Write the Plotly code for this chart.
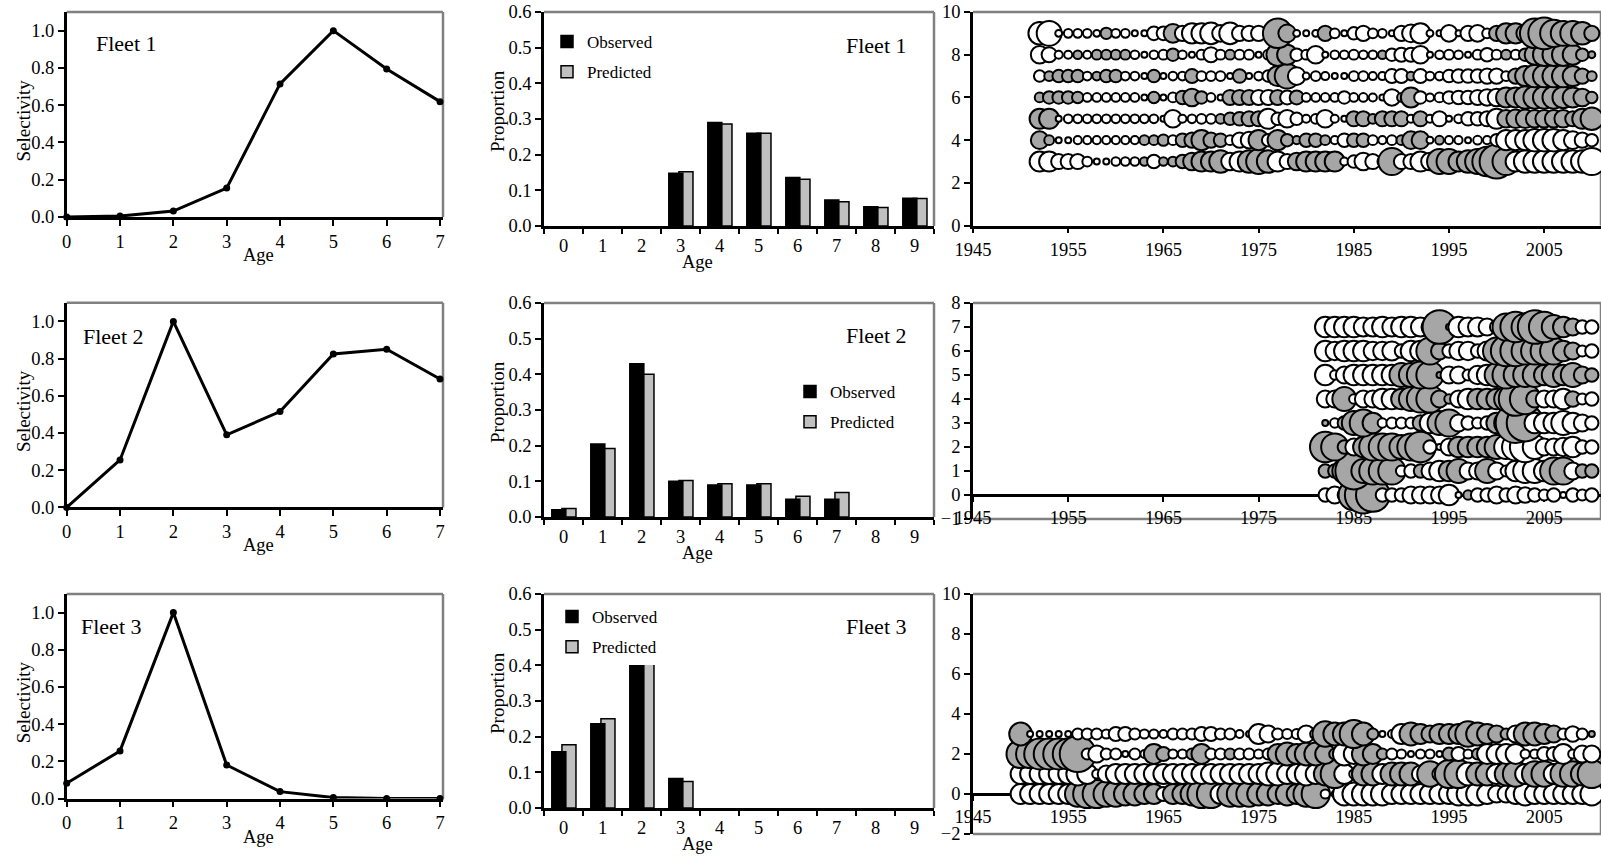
import plotly.graph_objects as go

W, H = 1601, 856
FONT = "Liberation Serif, Times New Roman, serif"
GRAY_BORDER = "#808080"

# ---------------- Selectivity by age ----------------
sel_ages = [0, 1, 2, 3, 4, 5, 6, 7]
sel_fleet1 = [0.0, 0.005, 0.032, 0.155, 0.714, 1.0, 0.794, 0.619]
sel_fleet2 = [0.0, 0.255, 1.0, 0.39, 0.515, 0.825, 0.85, 0.69]
sel_fleet3 = [0.082, 0.256, 1.0, 0.18, 0.037, 0.005, 0.0, 0.0]

# ---------------- Age composition (observed / predicted) ----------------
comp_ages = ["0", "1", "2", "3", "4", "5", "6", "7", "8", "9"]
obs_fleet1 = [0, 0, 0, 0.148, 0.29, 0.26, 0.136, 0.073, 0.054, 0.078]
pred_fleet1 = [0, 0, 0, 0.152, 0.286, 0.26, 0.131, 0.068, 0.052, 0.077]
obs_fleet2 = [0.02, 0.205, 0.43, 0.10, 0.09, 0.09, 0.05, 0.05, 0, 0]
pred_fleet2 = [0.024, 0.192, 0.40, 0.102, 0.093, 0.093, 0.058, 0.069, 0, 0]
obs_fleet3 = [0.158, 0.236, 0.50, 0.083, 0, 0, 0, 0, 0, 0]
pred_fleet3 = [0.177, 0.25, 0.49, 0.074, 0, 0, 0, 0, 0, 0]

# ---------------- Residual bubbles (grey = positive, white = negative) ----------------
f1_years = list(range(1952, 2011))
f1_age3 = [-3.5, -3.5, -2.5, -2.5, -2.5, -1.5, -0.5, -0.5, -1.3, -1.3, -1.3, 1.3, -2.2, 1.3, 1.5, 2.2, 3, 3.5, 3.5, 4,
           -3, -3.5, 4, 4.5, 4, -3.5, -2.5,
           3, 3.5, 3.5, 3.5, 3.5, -1.2, -2, -3, -2.5, -1.5, 5, -2.5, -2.5, -3.5, -3, 4.5, 4.5, 3.5, 4, 4.5, 5.5, 6.5,
           5, -3.5, -4, -4, -4, -4, -4, -4, -4, -5]
f1_age4 = [3, 1.5, -0.5, -0.6, -1.2, -1.2, -1.2, -1.2, -1.2, -1.2, -1.2, 1.5, 1.5, 1.8, -1.5, 2.2, 2.5, 3.5, 2.5, 2.2,
           -1.5, -2.5, -2.8, 3.5, -2, 3.5, 2,
           1.2, 2.2, 2.2, 1.5, -1.2, -2.2, 2.2, 2.2, -1.5, -1.2, -1.5, 1.5, 3, 3, -1, 1.3, -1.2, -1.2, -0.6, -1.3,
           -1.2, -2, -3.5, -3.5, -3.5, -4, -4, -4, -3.5, -3, -2.5, -2]
f1_age5 = [3.5, 3.5, -0.5, -1.3, -1.3, -1.3, -1.3, -1.3, -1.3, -1.3, -1.3, -1.3, -1.3, -0.6, -3, -1.2, -1.3, -1.5,
           -1.5, 1.5, 2, 2.2, 2.5, 2.5, -3.5, -2, -3,
           -2, -1.2, -1.5, -3, -1.2, -0.6, 2.5, 2.5, 1.5, 2.5, 2.5, 2.5, -1.2, 2.5, -1.2, -2.5, -0.6, -1.3, -2.2,
           -2.2, -2.5, -3.5, 3, 3.2, 3.2, 3, 3, 3, 3, 2.5, 3.5, 4]
f1_age6 = [1.5, 2, 2, 2, 1.8, -1.3, -1.3, -1.3, -1.3, -1.3, -1.3, -0.5, 1.8, -0.5, -1.5, 2.2, 3, 2, -1.3, -0.6,
           2.5, 2.5, 2.5, -2.5, -2.5, 2.5, -2.3,
           2.3, -1.3, -1.3, -1.3, -1.3, -2, -1.3, -1.3, -1.2, -0.8, -2.8, 1.3, 3.5, -2, -1.2, -1.5, -2, -2.2, -2.2,
           -2.5, -2.8, -3, 3.5, 3.5, 4, 4, 4, 4, 3.8, 3.5, 3, 1.8]
f1_age7 = [-1.8, 1.5, 2, 2, 2, -1.3, 1.3, 2, 2, -1.3, -1.3, -0.5, 2, -0.5, -1.3, -1.3, 2.3, -1.5, -1.5, -1.5,
           -0.6, 2.2, -0.6, -1.3, -1.8, 3.5, 4.5,
           -3, -1, -1.5, -1.2, -0.5, -0.5, -1.5, -1.5, -1.2, -1.2, -2.3, -2.3, 1.3, -2.3, -1.3, -1.3, -2, -2.2, -2.2,
           -2.2, -2.5, -2.5, -1.5, 2.5, 3.5, 4, 4, 4, 4, 3.5, 2.5, 1.5]
f1_age8 = [-3, -2.5, -1.2, -1.2, 1.3, -1.2, 1.5, 1.5, 1.5, 1.5, -1.3, -0.5, -1.3, -1.5, 2, -1.3, -0.5, -1.5, -2.5,
           -1.5, 1.5, -1.5, -1.5, -0.6, -1.5, 4, 3.5,
           -2, -1.5, -3, -0.6, -1.3, -1.3, -1.5, -1.3, -1.3, 1.3, -2, -2.3, -2.3, -3, -0.6, -1.3, -1.5, -1.3, -0.6,
           -1.5, -2.2, -1.5, 1.5, -1.5, 2, 3.5, 4, 4, 4, 3.5, 2, 1]
f1_age9 = [-4, -4.5, -1, -1.3, -1.3, -1.3, -1, 1.8, -1.3, -1.3, -0.6, -0.5, -2.2, -2.2, 3.2, -2.5, -3.5, -3.5, -3.8,
           -2.8, -3.8, -2.5, -2.5, -2.5, -1.5, 5.5, 3,
           -1, -0.5, -1, 2.5, -1.5, -0.8, -2, -2.5, -1.5, -1.3, -0.8, -2.5, -3, -3.5, -1, -0.5, -2.8, -0.5, -2.5,
           -2.8, -1.5, 2.5, 3.5, 3.5, 3, 5.5, 6, 5, 4.5, 4.5, 4, 2.5]

f2_years = list(range(1982, 2011))
f2_age0 = [-1.5, -2, -1.5, 4, 5, 4.5, -1.5, -1.5, -1.5, -2, -2, -2, -2, -2.5, -0.5, 1, -1.5, -1.5, -2, -1.5, -2,
           -1.8, -1.5, -1.2, -1.5, -0.5, -1.5, -1.2, -1.5]
f2_age1 = [1.5, 1.5, 3, 5, 3, 3.5, 3.5, 3.5, -1.2, -1.5, 1.5, -2, -2.5, 2.5, 3, -2, -2, 3, -2, -1.2, -2.5, -3, -3,
           -2.5, 3.5, 3.5, -2, 1.5, 1.5]
f2_age2 = [4, 3.5, 1.5, -2, 2.5, 3.5, 3.5, 3.5, 3, 3.5, 4, -1.5, -0.5, -2, 2.5, 2.5, 2.5, 2.5, 3, -3, -3.5, -4, -3,
           -2, -2, -2.2, -2.5, -1.5, -1.5]
f2_age3 = [0.5, -1, 1.5, 3, 3.5, 2.5, -1, -1.2, -1.2, -1.2, 1.8, -2.5, 3, 3.5, -2, -1.5, -1.2, -1.5, 2.5, 3, 5.5,
           5, -2.5, -2.5, -2.5, -3, -2.5, -2, -1.5]
f2_age4 = [-2, -2, 3, -1, -2, -2, -2.5, -2.5, 2.5, 3, 3.5, 3.5, 2, 1, -2, -2.5, 2.5, 2.5, 2.5, 3, 4.5, 4, 2, -2,
           -2, -2.5, 1.8, -1.2, -1.5]
f2_age5 = [-2.5, -1, -2, -2.5, -2.5, -2.5, -2.5, -2.5, 3, 3, 3.5, 3.5, 0.5, -2, -2, -1.2, -2.2, -2.5, 3, 3.5, 3, 3,
           3, 2.5, 3, 2.5, 3, 2, 1.5]
f2_age6 = [-2.5, -2.2, -2.5, -2.5, -2.5, -2.2, -2.2, -2.3, -1.5, -2.5, -2.5, 3.5, 2, -1.5, -2.2, -2.2, -1.5, -2.3,
           3.5, 4, 4, 3.5, 3.5, 3.5, 3.5, 2.5, 2, -1.2, -1.5]
f2_age7 = [-2.5, -2.5, -2.5, -2.5, -2.3, -2.3, -2.5, -2.3, -2.5, -2.5, -2.3, -2, 4.5, 0.5, -2.5, -2.3, -2.3, -2,
           -1.5, 3.5, 4, 3.5, 4.5, 4, 3, 2.5, 2, -1.5, -1.5]

f3_years = list(range(1950, 2011))
f3_age0 = [-3, -3, -3, -3, -3, -3, 4, 4.5, 4.5, 4, 4, 3.5, 3.5, 3, 3, -2, 3, 3, 3.5, 4.5, 4.5, -3, 4, 4, 4, 3.5,
           3.5, 3,
           3.5, 3, 4, 4.5, -1.2, -0.8, -3.5, -3.5, -3.5, -3.5, -3.5, -3, -3, -3, -3, -3, -3, -3, -3.5, -3.5, -3.5,
           -3, -2.5, -2.5, -3, -3.5, -3, -3, -3, -3, -3, -3, -3.5]
f3_age1 = [-3, -3, -3, -3, -3, -3, -3.5, -3, -1.2, -2.5, -3, -3, -3, -3, -3, -3, -3, -3, -3, -3, -3, -3, -3, -3,
           -3, -3, -3.5, -3.5,
           -3, -3, -3.5, -3, 3.5, 4.5, -3, -1.2, 3.5, 3.5, -3, 3.5, 3.5, 3.5, -2.5, 4, -2, 4.5, 4.5, -3.5, 3.5, 3.5,
           -3, 3.5, 4, -3, 4, 4, -3, 4, 4, 3.5, 4.5]
f3_age2 = [4.5, 4.5, 5, 5, 5, 5, 6, -1.5, -2.5, -1.5, -1.5, -0.5, -1.5, -1, 3, 2, -1.2, -1.2, 1.5, 3, -1.5, -1.5,
           1.5, -1.5, -1.5, -1.2, -1.5, 3,
           3.5, 3, 3.5, 3.5, 3, 1.5, -3.5, -3, 3.5, 3, 1.5, -1.5, -1.2, -0.5, -1.2, -1.2, -0.5, 1.8, -2, -1.2, 1.5,
           -3, -3, -3, -3, -1.2, -1.2, -2, -2, -3, -1.2, -2.5, -2.5]
f3_age3 = [3.5, -0.5, -0.5, -0.5, -0.5, -0.6, -1.5, -1.5, -1.5, -1.2, -2, -2, -1.5, -1.2, -1.2, -1, -1.5, -1.5, -1.5,
           -2, -2, -1.5, -1.5, -1, -0.6, -3, -2.5, -1.5,
           -1.3, -1.3, -2.5, -1.5, 4, 3.5, 3.5, 4.5, 3.5, 1.5, -0.5, -1, -3, 3.5, 3, 2.5, 3, 3, 3, 4, 3.5, 3, 2.5,
           1.5, -2.5, 3.5, 3.5, 3, 2.5, -1.5, -2.2, -1.5, 0.6]

fleet1_resid = {3: f1_age3, 4: f1_age4, 5: f1_age5, 6: f1_age6, 7: f1_age7, 8: f1_age8, 9: f1_age9}
fleet2_resid = {0: f2_age0, 1: f2_age1, 2: f2_age2, 3: f2_age3, 4: f2_age4, 5: f2_age5, 6: f2_age6, 7: f2_age7}
fleet3_resid = {0: f3_age0, 1: f3_age1, 2: f3_age2, 3: f3_age3}

# ---------------- Layout geometry (pixels) ----------------
SEL_X = (66.7, 443)
BAR_X = (544, 934)
BUB_X = (973, 1601)
SEL_ROWS = [(12, 217), (302.8, 507.4), (594, 798.5)]
BAR_ROWS = [(12, 226), (303, 517), (594, 808)]
BUB_ROWS = [(12, 225.6), (303, 519), (594, 834)]
BUB_YR = [(0, 10), (-1, 8), (-2, 10)]
BUB_DT = [2, 1, 2]
BUB_DMAX = [34, 40, 36]
SIZE_POW = 0.85


def px(x):
    return min(1.0, x / W)


def py(y):
    return 1 - y / H


def xdom(a, b):
    return [px(a), px(b)]


def ydom(t, b):
    return [py(b), py(t)]


tickfont = dict(family=FONT, size=18.5, color="black")
axis_common = dict(showline=True, linecolor="black", linewidth=2.5, ticks="outside", ticklen=6,
                   tickwidth=2, tickcolor="black", showgrid=False, zeroline=False, tickfont=tickfont,
                   automargin=False, ticklabeloverflow="allow")

fig = go.Figure()
layout = dict(width=W, height=H, margin=dict(l=0, r=0, t=0, b=0, pad=0, autoexpand=False), autosize=False,
              paper_bgcolor="white", plot_bgcolor="white", showlegend=True, barmode="overlay",
              font=dict(family=FONT, color="black"))
shapes = []
annotations = []


def ax_names(i):
    return ("xaxis" if i == 1 else f"xaxis{i}", "yaxis" if i == 1 else f"yaxis{i}",
            "x" if i == 1 else f"x{i}", "y" if i == 1 else f"y{i}")


def border(xr, yr, bottom=False):
    shapes.append(dict(type="line", xref=f"{xr} domain", yref=f"{yr} domain", x0=0, x1=1, y0=1, y1=1,
                       line=dict(color=GRAY_BORDER, width=2.5), layer="below"))
    shapes.append(dict(type="line", xref=f"{xr} domain", yref=f"{yr} domain", x0=1, x1=1, y0=0, y1=1,
                       line=dict(color=GRAY_BORDER, width=2.5), layer="below"))
    if bottom:
        shapes.append(dict(type="line", xref=f"{xr} domain", yref=f"{yr} domain", x0=0, x1=1, y0=0, y1=0,
                           line=dict(color=GRAY_BORDER, width=2.5), layer="below"))


def label(text, x, y, size, angle=0):
    annotations.append(dict(text=text, x=px(x), y=py(y), xref="paper", yref="paper", xanchor="center",
                            yanchor="middle", showarrow=False, textangle=angle,
                            font=dict(family=FONT, size=size, color="black")))


sel_data = [sel_fleet1, sel_fleet2, sel_fleet3]
obs_data = [obs_fleet1, obs_fleet2, obs_fleet3]
pred_data = [pred_fleet1, pred_fleet2, pred_fleet3]
resid_data = [(f1_years, fleet1_resid), (f2_years, fleet2_resid), (f3_years, fleet3_resid)]

sel_fleet_lbl = [(126, 44), (113, 336), (111, 626)]
bar_fleet_lbl = [(876, 45), (876, 335), (876, 626)]
legend_pos = [(547, 24, "top"), (790, 374, "top"), (552, 665, "bottom")]

for r in range(3):
    fleet = f"Fleet {r + 1}"
    # ---- selectivity ----
    i = r * 3 + 1
    xa, ya, xr, yr = ax_names(i)
    st, sb = SEL_ROWS[r]
    layout[xa] = dict(axis_common, domain=xdom(*SEL_X), range=[0, 7.056], tickvals=sel_ages,
                      anchor=yr, ticklabelstandoff=0)
    layout[ya] = dict(axis_common, domain=ydom(st, sb), range=[0, 1.1], tickvals=[0, 0.2, 0.4, 0.6, 0.8, 1.0],
                      tickformat=".1f", anchor=xr)
    fig.add_trace(go.Scatter(x=sel_ages, y=sel_data[r], mode="lines+markers", xaxis=xr, yaxis=yr,
                             line=dict(color="black", width=3), marker=dict(color="black", size=7),
                             cliponaxis=False, showlegend=False, name=f"{fleet} selectivity"))
    border(xr, yr)
    label(fleet, sel_fleet_lbl[r][0], sel_fleet_lbl[r][1], 22)
    label("Age", 258, sb + 38, 18.5)
    label("Selectivity", 23, (st + sb) / 2 + 6, 19, -90)

    # ---- age composition bars ----
    i = r * 3 + 2
    xa, ya, xr, yr = ax_names(i)
    bt, bb = BAR_ROWS[r]
    lg = "legend" if r == 0 else f"legend{r + 1}"
    layout[xa] = dict(axis_common, domain=xdom(*BAR_X), type="category", categoryorder="array",
                      categoryarray=comp_ages, range=[-0.5, 9.5], tickson="boundaries", anchor=yr,
                      ticklen=5, ticklabelstandoff=1)
    layout[ya] = dict(axis_common, domain=ydom(bt, bb), range=[0, 0.6], dtick=0.1, tick0=0,
                      tickformat=".1f", anchor=xr)
    pred_vals = [v if v > 0 else None for v in pred_data[r]]
    obs_vals = [v if v > 0 else None for v in obs_data[r]]
    fig.add_trace(go.Bar(x=comp_ages, y=pred_vals, xaxis=xr, yaxis=yr, offset=-0.04, width=0.36,
                         marker=dict(color="#c0c0c0", line=dict(color="black", width=1.5)),
                         name="Predicted", legend=lg, legendrank=2, legendgroup=f"pred{r}"))
    fig.add_trace(go.Bar(x=comp_ages, y=obs_vals, xaxis=xr, yaxis=yr, offset=-0.30, width=0.36,
                         marker=dict(color="black", line=dict(color="black", width=1.5)),
                         name="Observed", legend=lg, legendrank=1, legendgroup=f"obs{r}"))
    lx, ly, lanchor = legend_pos[r]
    layout[lg] = dict(x=px(lx), y=py(ly), xanchor="left", yanchor=lanchor, bgcolor="white",
                      font=dict(family=FONT, size=17, color="black"), traceorder="grouped",
                      tracegroupgap=5, borderwidth=0)
    border(xr, yr)
    label(fleet, bar_fleet_lbl[r][0], bar_fleet_lbl[r][1], 22)
    label("Age", 697, bb + 36, 18.5)
    label("Proportion", 497, (bt + bb) / 2 - 8, 19, -90)

    # ---- residual bubbles ----
    i = r * 3 + 3
    xa, ya, xr, yr = ax_names(i)
    ut, ub = BUB_ROWS[r]
    ymin, ymax = BUB_YR[r]
    y0px = ut + (ymax - 0) / (ymax - ymin) * (ub - ut)
    xaxis_def = dict(axis_common, domain=xdom(*BUB_X), range=[1945, 1945 + (BUB_X[1] - BUB_X[0]) / 9.52],
                     tickvals=list(range(1945, 2011, 10)), layer="below traces", ticklen=5,
                     ticklabelstandoff=0)
    if r == 0:
        xaxis_def["anchor"] = yr
    else:
        xaxis_def["anchor"] = "free"
        xaxis_def["position"] = py(y0px)
    layout[xa] = xaxis_def
    layout[ya] = dict(axis_common, domain=ydom(ut, ub), range=[ymin, ymax], dtick=BUB_DT[r], tick0=0,
                      anchor=xr)
    years, resid = resid_data[r]
    bx, by, bs, bc = [], [], [], []
    for age in sorted(resid):
        for yr_, v in zip(years, resid[age]):
            bx.append(yr_)
            by.append(age)
            bs.append(abs(v) ** SIZE_POW)
            bc.append("#a6a6a6" if v > 0 else "white")
    vmax = max(bs)
    fig.add_trace(go.Scatter(x=bx, y=by, mode="markers", xaxis=xr, yaxis=yr, showlegend=False,
                             name=f"{fleet} residuals",
                             marker=dict(size=bs, sizemode="diameter", sizeref=vmax / BUB_DMAX[r], sizemin=3,
                                         color=bc, line=dict(color="black", width=2), opacity=1)))
    border(xr, yr, bottom=(r > 0))

layout["shapes"] = shapes
layout["annotations"] = annotations
fig.update_layout(**layout)
fig.write_html("out.html", config={"displayModeBar": False},
               post_script="document.body.style.margin='0';document.body.style.overflow='hidden';")
